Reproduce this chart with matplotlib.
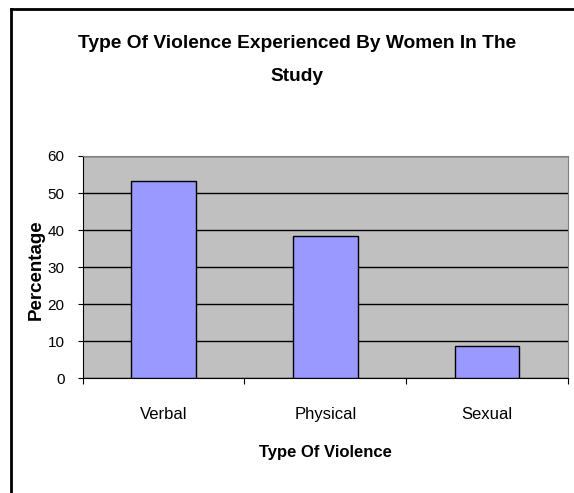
import matplotlib
matplotlib.use("Agg")
import matplotlib.pyplot as plt
import numpy as np

categories = ["Verbal", "Physical", "Sexual"]
percentages = [53.3, 38.3, 8.7]

plt.rcParams["font.family"] = ["Liberation Sans", "DejaVu Sans"]

fig = plt.figure(figsize=(5.74, 4.93), dpi=100)
ax = fig.add_axes([0.144, 0.2327, 0.8455, 0.4509])

x = np.arange(len(categories))
ax.bar(x, percentages, width=0.4, color="#9999FF", edgecolor="black", linewidth=1, zorder=3)

ax.set_facecolor("#C0C0C0")
ax.set_xlim(-0.5, len(categories) - 0.5)
ax.set_ylim(0, 60)
ax.set_yticks(range(0, 61, 10))
ax.yaxis.grid(True, color="black", linewidth=1, zorder=1)

# category separators as major ticks, labels on minor ticks
ax.set_xticks(np.arange(-0.5, len(categories), 1))
ax.set_xticklabels([])
ax.set_xticks(x, minor=True)
ax.set_xticklabels(categories, minor=True)
ax.tick_params(axis="x", which="major", length=4.5, color="black", direction="out")
ax.tick_params(axis="x", which="minor", length=0, pad=21, labelsize=12)
ax.tick_params(axis="y", length=3.6, direction="out", pad=9.4, labelsize=11)

for side in ["top", "right"]:
    ax.spines[side].set_color("#808080")
for side in ["left", "bottom"]:
    ax.spines[side].set_color("black")

ax.set_ylabel("Percentage", fontsize=13.5, fontweight="bold")
ax.yaxis.set_label_coords(-0.078, 0.488)
ax.set_xlabel("Type Of Violence", fontsize=12, fontweight="bold", labelpad=16)

fig.text(0.517, 0.879, "Type Of Violence Experienced By Women In The\nStudy",
         ha="center", va="center", fontsize=13.8, fontweight="bold", linespacing=2.25)

# chart frame (left and top edges)
fig.add_artist(plt.Line2D([0.0195, 0.0195], [0, 0.982], color="black", linewidth=2))
fig.add_artist(plt.Line2D([0.0195, 1.0], [0.982, 0.982], color="black", linewidth=2))

fig.savefig("out.png", dpi=100)
